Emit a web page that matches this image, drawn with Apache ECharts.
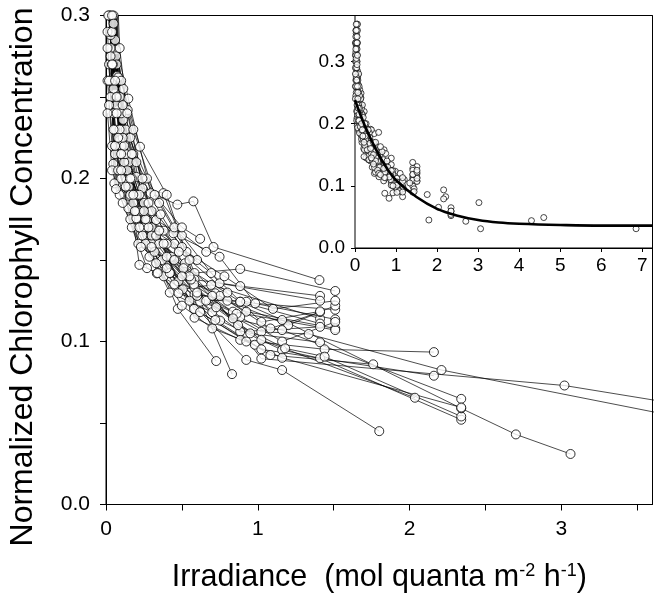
<!DOCTYPE html>
<html>
<head>
<meta charset="UTF-8">
<script src="https://cdn.jsdelivr.net/npm/echarts@6/dist/echarts.min.js"></script>
<style>html,body{margin:0;padding:0;background:#fff}#chart{width:654px;height:604px}</style>
</head>
<body>
<div id="chart"></div>
<script>
// each track = one culture followed through successive irradiance levels [x, y]
const shortTracks = [
    [[0.03,0.345],[0.06,0.285],[0.147,0.249],[0.295,0.191],[0.47,0.184],[0.576,0.186],[0.708,0.158],[1.406,0.1377]],
    [[0.02,0.33],[0.066,0.279],[0.143,0.242],[0.24,0.194],[0.378,0.191],[0.583,0.142],[0.884,0.1445],[1.51,0.131]],
    [[0.04,0.32],[0.073,0.263],[0.114,0.255],[0.224,0.2195],[0.4,0.19],[0.583,0.138],[0.884,0.134],[1.41,0.128]],
    [[0.01,0.31],[0.03,0.288],[0.113,0.236],[0.2,0.201],[0.33,0.1745],[0.5,0.165],[0.748,0.1357],[1.41,0.125]],
    [[0.05,0.36],[0.066,0.275],[0.137,0.199],[0.27,0.1745],[0.444,0.1664],[0.748,0.152],[0.983,0.1234],[1.51,0.1195]],
    [[0.03,0.30],[0.06,0.252],[0.18,0.215],[0.335,0.1418],[0.506,0.132],[0.693,0.1347],[1.41,0.114]],
    [[0.02,0.315],[0.055,0.197],[0.158,0.189],[0.3,0.17],[0.583,0.129],[0.884,0.1244],[1.41,0.111]],
    [[0.04,0.35],[0.08,0.242],[0.15,0.21],[0.38,0.168],[0.653,0.1255],[0.924,0.1244],[1.51,0.1136]],
    [[0.06,0.33],[0.092,0.2236],[0.213,0.16],[0.42,0.1418],[0.72,0.1296],[0.924,0.1183],[1.51,0.108]],
    [[0.03,0.325],[0.048,0.209],[0.147,0.1817],[0.286,0.152],[0.62,0.1244],[0.884,0.106],[1.41,0.109]],
    [[0.05,0.31],[0.1,0.23],[0.25,0.185],[0.477,0.137],[0.836,0.1183],[1.51,0.107]],
    [[0.03,0.29],[0.1,0.22],[0.25,0.17],[0.473,0.12],[0.726,0.088]],
    [[0.02,0.27],[0.12,0.21],[0.3,0.16],[0.583,0.133],[0.83,0.080]],
    [[0.02,0.30],[0.07,0.245],[0.17,0.2],[0.35,0.16],[0.58,0.135],[0.884,0.115],[1.16,0.1],[1.51,0.112]],
    [[0.04,0.34],[0.1,0.24],[0.2,0.19],[0.3,0.165],[0.52,0.148],[0.75,0.128],[1.083,0.108],[1.41,0.118]],
    [[0.01,0.33],[0.04,0.27],[0.12,0.215],[0.28,0.17],[0.45,0.16],[0.693,0.142],[1.023,0.112],[1.41,0.1185]],
    [[0.03,0.33],[0.06,0.23],[0.14,0.205],[0.33,0.165],[0.56,0.138],[0.8,0.125],[1.2,0.11],[1.51,0.122]],
    [[0.02,0.35],[0.05,0.255],[0.13,0.215],[0.22,0.18],[0.43,0.152],[0.66,0.125],[0.95,0.105],[1.41,0.0995]],
    [[0.06,0.36],[0.09,0.25],[0.17,0.215],[0.35,0.185],[0.53,0.155],[0.78,0.14],[1.1,0.12],[1.51,0.125]]
];
const clusterTracks = [
    [[0.01,0.29],[0.03,0.25],[0.1,0.2],[0.2,0.175],[0.4,0.16]],
    [[0.02,0.31],[0.04,0.26],[0.12,0.22],[0.22,0.19],[0.35,0.168],[0.6,0.15]],
    [[0.05,0.33],[0.07,0.27],[0.13,0.23],[0.27,0.2],[0.45,0.17],[0.66,0.155]],
    [[0.03,0.28],[0.05,0.24],[0.09,0.215],[0.18,0.185],[0.32,0.155],[0.55,0.14]],
    [[0.04,0.29],[0.08,0.262],[0.16,0.225],[0.28,0.185],[0.5,0.158]],
    [[0.02,0.245],[0.06,0.215],[0.15,0.195],[0.26,0.16],[0.42,0.13],[0.7,0.118]],
    [[0.06,0.35],[0.09,0.28],[0.14,0.24],[0.24,0.2],[0.36,0.178],[0.55,0.15],[0.8,0.13]],
    [[0.015,0.3],[0.045,0.27],[0.11,0.245],[0.2,0.21],[0.3,0.18],[0.48,0.155]],
    [[0.03,0.36],[0.05,0.3],[0.1,0.26],[0.18,0.23],[0.32,0.19],[0.5,0.17],[0.62,0.163]],
    [[0.01,0.26],[0.04,0.22],[0.09,0.19],[0.17,0.17],[0.27,0.145],[0.38,0.14]],
    [[0.01,0.24],[0.04,0.205],[0.11,0.185],[0.23,0.158],[0.37,0.15],[0.6,0.128],[0.86,0.117]],
    [[0.03,0.275],[0.06,0.22],[0.16,0.175],[0.33,0.148],[0.5,0.122],[0.7,0.108],[0.98,0.098]]
];
const midTracks = [
    [[0.02,0.34],[0.066,0.1935],[0.2,0.1756],[0.4,0.152],[0.583,0.1146],[0.884,0.101],[1.44,0.0952],[2.16,0.0935]],
    [[0.04,0.30],[0.09,0.23],[0.22,0.147],[0.34,0.142],[0.477,0.1296],[0.726,0.121],[1.023,0.106],[1.335,0.1046],[2.21,0.0825],[4.3,0.044]],
    [[0.01,0.28],[0.05,0.23],[0.16,0.19],[0.42,0.142],[0.752,0.1128],[1.16,0.0948],[1.41,0.0897],[2.34,0.052]],
    [[0.03,0.305],[0.07,0.24],[0.2,0.18],[0.51,0.145],[0.87,0.110],[1.18,0.0958],[1.44,0.0907],[2.34,0.054]],
    [[0.05,0.295],[0.1,0.215],[0.26,0.175],[0.5,0.14],[0.836,0.1142],[1.16,0.107],[2.34,0.0648]],
    [[0.02,0.26],[0.08,0.205],[0.24,0.165],[0.45,0.135],[0.72,0.1132],[1.023,0.0952],[2.16,0.079]],
    [[0.04,0.27],[0.13,0.195],[0.3,0.158],[0.6,0.13],[1.023,0.101],[2.035,0.0655]],
    [[0.06,0.31],[0.1,0.205],[0.22,0.17],[0.55,0.125],[0.924,0.0887],[1.16,0.0825],[1.80,0.045]],
    [[0.03,0.35],[0.07,0.25],[0.18,0.19],[0.45,0.15],[0.884,0.1244],[1.16,0.1132],[2.34,0.059],[2.70,0.043],[3.06,0.031]],
    [[0.05,0.34],[0.11,0.225],[0.25,0.18],[0.58,0.12],[1.083,0.0917],[1.76,0.086]],
    [[0.05,0.32],[0.08,0.225],[0.19,0.18],[0.4,0.145],[0.62,0.118],[0.924,0.1],[1.16,0.09],[2.34,0.0595]]
];
const longTracks = [
    [[0.02,0.32],[0.06,0.26],[0.16,0.2],[0.38,0.16],[0.7,0.128],[1.023,0.0895],[3.02,0.073],[4.6,0.049],[6.85,0.031]]
];
// fitted curve
const curveX = [0, 0.25, 0.5, 0.75, 1, 1.5, 2, 2.5, 3, 3.5, 4, 5, 6, 7.25];
const curveY = [0.238, 0.195, 0.160, 0.131, 0.109, 0.082, 0.063, 0.052, 0.045, 0.041, 0.039, 0.037, 0.036, 0.036];

const allTracks = shortTracks.concat(clusterTracks, midTracks, longTracks);
const allPoints = [].concat(...allTracks);
const mainPoints = allPoints.filter(p => p[0] <= 3.6 && p[1] <= 0.3);

const font = 'Liberation Sans';
const axisCommon = {
    axisLine: {lineStyle: {color: '#000', width: 1}},
    splitLine: {show: false}
};
const oneDec = v => Math.abs(v * 10 - Math.round(v * 10)) < 1e-6 ? v.toFixed(1) : '';
const intOnly = v => Math.abs(v - Math.round(v)) < 1e-6 ? String(Math.round(v)) : '';

const chart = echarts.init(document.getElementById('chart'));
const series = allTracks.map(t => ({
    type: 'line', data: t, xAxisIndex: 0, yAxisIndex: 0,
    symbol: 'none', silent: true, z: 2, clip: true,
    lineStyle: {color: '#000', width: 0.7}
}));
series.push({
    type: 'scatter', data: mainPoints, xAxisIndex: 0, yAxisIndex: 0, z: 3, clip: true,
    symbolSize: 9, itemStyle: {color: '#fff', borderColor: '#000', borderWidth: 1}
});
series.push({
    type: 'scatter', data: allPoints, xAxisIndex: 1, yAxisIndex: 1, zlevel: 1, z: 3,
    symbolSize: 6, itemStyle: {color: '#fff', borderColor: '#000', borderWidth: 0.9}
});
series.push({
    type: 'line', data: curveX.map((x, i) => [x, curveY[i]]), xAxisIndex: 1, yAxisIndex: 1,
    zlevel: 1, z: 4, smooth: 0.4, symbol: 'none',
    lineStyle: {color: '#000', width: 2.6}
});

chart.setOption({
    animation: false,
    backgroundColor: '#fff',
    textStyle: {fontFamily: font},
    grid: [
        {left: 106, top: 15.5, right: 1.5, bottom: 99.5, show: true, borderColor: '#000', borderWidth: 1},
        {left: 355, top: 15.5, right: 1.5, bottom: 356, show: true, zlevel: 1, z: 1,
         backgroundColor: '#fff', borderColor: '#000', borderWidth: 1}
    ],
    graphic: [{
        type: 'text', x: 23, y: 277, rotation: Math.PI / 2,
        style: {
            text: 'Normalized Chlorophyll Concentration', fontSize: 32, fontFamily: font,
            fill: '#000', align: 'center', verticalAlign: 'middle'
        }
    }],
    xAxis: [
        Object.assign({}, axisCommon, {
            type: 'value', gridIndex: 0, min: 0, max: 3.6, interval: 0.5,
            axisTick: {length: 6, lineStyle: {color: '#000'}},
            axisLabel: {formatter: intOnly, fontSize: 21, color: '#000', margin: 14, fontFamily: font, showMaxLabel: false},
            name: 'Irradiance  (mol quanta m{sup|-2} h{sup|-1})',
            nameLocation: 'middle', nameGap: 58,
            nameTextStyle: {
                fontSize: 30.5, color: '#000', fontFamily: font,
                rich: {sup: {fontSize: 18, verticalAlign: 'top', color: '#000', fontFamily: font}}
            }
        }),
        Object.assign({}, axisCommon, {
            type: 'value', gridIndex: 1, min: 0, max: 7.25, interval: 1, zlevel: 1,
            axisTick: {length: 4, lineStyle: {color: '#000'}},
            axisLabel: {formatter: intOnly, fontSize: 19, color: '#000', margin: 8, fontFamily: font, showMaxLabel: false}
        })
    ],
    yAxis: [
        Object.assign({}, axisCommon, {
            type: 'value', gridIndex: 0, min: 0, max: 0.3, interval: 0.05,
            axisTick: {length: 6, lineStyle: {color: '#000'}},
            axisLabel: {formatter: oneDec, fontSize: 21, color: '#000', margin: 16, fontFamily: font}
        }),
        Object.assign({}, axisCommon, {
            type: 'value', gridIndex: 1, min: 0, max: 0.374, interval: 0.1, zlevel: 1,
            axisTick: {length: 4, lineStyle: {color: '#000'}},
            axisLabel: {formatter: oneDec, fontSize: 19, color: '#000', margin: 10, fontFamily: font, showMaxLabel: false}
        })
    ],
    series: series
});
</script>
</body>
</html>
